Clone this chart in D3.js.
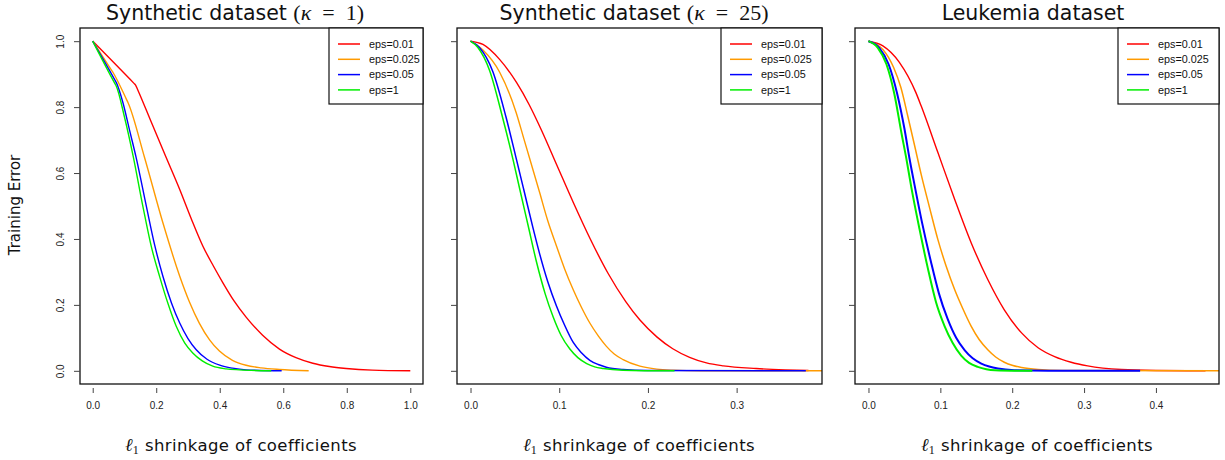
<!DOCTYPE html>
<html>
<head>
<meta charset="utf-8">
<script src="https://cdn.jsdelivr.net/npm/d3@7"></script>
<style>
  body { margin: 0; background: #fff; }
  svg { display: block; }
</style>
</head>
<body>
<div id="chart"></div>
<script>
// Series labels and colours (legend order)
const seriesNames = ["eps=0.01", "eps=0.025", "eps=0.05", "eps=1"];
const seriesColors = ["#ff0000", "#ff9a00", "#0000ff", "#00ee00"];

// Tick values
const yTicks = [0, 0.2, 0.4, 0.6, 0.8, 1.0];
const xTicks1 = [0, 0.2, 0.4, 0.6, 0.8, 1.0];
const xTicks2 = [0, 0.1, 0.2, 0.3];
const xTicks3 = [0, 0.1, 0.2, 0.3, 0.4];

// Synthetic dataset, kappa = 1   ([shrinkage, training error])
const k1_eps001 = [[0,1],[0.13,0.872],[0.135,0.867],[0.142,0.852],[0.185,0.753],[0.23,0.65],[0.274,0.55],[0.31,0.462],[0.347,0.378],[0.38,0.318],[0.41,0.267],[0.445,0.212],[0.483,0.163],[0.535,0.108],[0.588,0.066],[0.64,0.04],[0.693,0.023],[0.745,0.013],[0.798,0.007],[0.88,0.002],[1.0,0]];
const k1_eps0025 = [[0,1],[0.06,0.911],[0.064,0.905],[0.107,0.822],[0.111,0.814],[0.163,0.648],[0.221,0.449],[0.274,0.287],[0.305,0.208],[0.336,0.144],[0.368,0.094],[0.399,0.06],[0.44,0.032],[0.483,0.017],[0.53,0.009],[0.588,0.004],[0.68,0]];
const k1_eps005 = [[0,1],[0.07,0.882],[0.074,0.875],[0.095,0.814],[0.116,0.73],[0.137,0.646],[0.169,0.499],[0.195,0.382],[0.221,0.287],[0.248,0.206],[0.274,0.145],[0.3,0.098],[0.326,0.064],[0.36,0.035],[0.4,0.017],[0.44,0.008],[0.483,0.003],[0.595,0]];
const k1_eps1 = [[0,1],[0.07,0.871],[0.074,0.864],[0.1,0.77],[0.127,0.653],[0.158,0.499],[0.185,0.375],[0.211,0.285],[0.237,0.204],[0.263,0.135],[0.29,0.084],[0.315,0.054],[0.345,0.03],[0.378,0.014],[0.42,0.006],[0.462,0.003],[0.562,0]];

// Synthetic dataset, kappa = 25
const k25_eps001 = [[0,1],[0.014,0.99],[0.033,0.944],[0.052,0.874],[0.066,0.808],[0.08,0.73],[0.097,0.626],[0.116,0.51],[0.135,0.4],[0.155,0.296],[0.175,0.21],[0.191,0.154],[0.21,0.103],[0.228,0.067],[0.247,0.041],[0.266,0.024],[0.285,0.015],[0.322,0.007],[0.355,0.003],[0.381,0.001]];
const k25_eps0025 = [[0,1],[0.014,0.973],[0.033,0.905],[0.0515,0.783],[0.06,0.705],[0.078,0.54],[0.087,0.456],[0.097,0.378],[0.106,0.31],[0.1158,0.246],[0.125,0.193],[0.1345,0.145],[0.144,0.106],[0.153,0.075],[0.162,0.051],[0.172,0.034],[0.191,0.014],[0.21,0.005],[0.228,0.002],[0.26,0.0003],[0.42,0]];
const k25_eps005 = [[0,1],[0.01,0.981],[0.025,0.909],[0.04,0.77],[0.051,0.65],[0.06,0.55],[0.07,0.438],[0.078,0.354],[0.087,0.271],[0.097,0.196],[0.106,0.139],[0.1158,0.086],[0.125,0.055],[0.1345,0.032],[0.144,0.019],[0.153,0.011],[0.172,0.004],[0.2,0.001],[0.378,0]];
const k25_eps1 = [[0,1],[0.0083,0.981],[0.0214,0.912],[0.036,0.77],[0.048,0.64],[0.0556,0.55],[0.065,0.44],[0.0744,0.33],[0.084,0.235],[0.0932,0.163],[0.102,0.108],[0.112,0.066],[0.121,0.04],[0.131,0.022],[0.14,0.012],[0.1496,0.007],[0.172,0.002],[0.23,0]];

// Leukemia dataset
const leu_eps001 = [[0,1],[0.02,0.986],[0.043,0.936],[0.066,0.844],[0.0734,0.803],[0.0966,0.662],[0.12,0.52],[0.143,0.388],[0.166,0.277],[0.189,0.185],[0.213,0.115],[0.236,0.07],[0.259,0.043],[0.282,0.026],[0.305,0.015],[0.352,0.004],[0.4,0.001],[0.469,0]];
const leu_eps0025 = [[0,1],[0.02,0.975],[0.035,0.92],[0.045,0.86],[0.055,0.77],[0.064,0.685],[0.0734,0.595],[0.085,0.495],[0.0966,0.398],[0.108,0.318],[0.12,0.246],[0.131,0.19],[0.143,0.135],[0.154,0.095],[0.166,0.064],[0.177,0.042],[0.189,0.026],[0.201,0.016],[0.213,0.01],[0.236,0.004],[0.27,0.001],[0.5,0]];
const leu_eps005 = [[0,1],[0.015,0.98],[0.028,0.93],[0.04,0.84],[0.05,0.735],[0.057,0.645],[0.064,0.565],[0.075,0.445],[0.087,0.33],[0.098,0.235],[0.11,0.158],[0.122,0.1],[0.134,0.062],[0.145,0.038],[0.157,0.022],[0.168,0.013],[0.18,0.007],[0.203,0.002],[0.25,0.0003],[0.378,0]];
const leu_eps1 = [[0,1],[0.013,0.98],[0.025,0.93],[0.036,0.84],[0.046,0.72],[0.053,0.64],[0.0595,0.558],[0.071,0.43],[0.0827,0.31],[0.094,0.208],[0.106,0.135],[0.117,0.085],[0.129,0.046],[0.14,0.024],[0.152,0.012],[0.164,0.005],[0.176,0.002],[0.228,0]];

const width = 1225, height = 460;
const plotTop = 28, plotBottom = 384;

const panels = [
  { title: ["Synthetic dataset ", "1"], series: [k1_eps001, k1_eps0025, k1_eps005, k1_eps1],
    xmax: 1.0, ticks: xTicks1, left: 80, right: 423, yLabels: true, titleX: 235, xlabX: 241, legendW: 94, widths: [1.4, 1.4, 1.4, 1.4] },
  { title: ["Synthetic dataset ", "25"], series: [k25_eps001, k25_eps0025, k25_eps005, k25_eps1],
    xmax: 0.381, ticks: xTicks2, left: 457, right: 822, yLabels: false, titleX: 634, xlabX: 639, legendW: 101, widths: [1.4, 1.4, 1.5, 1.5] },
  { title: ["Leukemia dataset"], series: [leu_eps001, leu_eps0025, leu_eps005, leu_eps1],
    xmax: 0.469, ticks: xTicks3, left: 855, right: 1219, yLabels: false, titleX: 1033, xlabX: 1037, legendW: 101, widths: [1.4, 1.5, 2, 2] }
];

const svg = d3.select("#chart").append("svg")
    .attr("width", width)
    .attr("height", height);

const sans = "'DejaVu Sans', sans-serif";
const serif = "'Liberation Serif', 'DejaVu Serif', serif";
const axisFont = "'Liberation Sans', Arial, sans-serif";

// R-style 4% padding on both axes
const y = d3.scaleLinear().domain([-0.04, 1.04]).range([plotBottom, plotTop]);

panels.forEach((p, pi) => {
  const pad = p.xmax * 0.04;
  const x = d3.scaleLinear().domain([-pad, p.xmax + pad]).range([p.left, p.right]);
  const g = svg.append("g");

  // clip lines to the plot box
  const clipId = "clip" + pi;
  g.append("clipPath").attr("id", clipId)
    .append("rect")
    .attr("x", p.left).attr("y", plotTop)
    .attr("width", p.right - p.left).attr("height", plotBottom - plotTop);

  const line = d3.line()
      .x(d => x(d[0]))
      .y(d => y(d[1]))
      .curve(d3.curveMonotoneX);

  g.append("g").attr("clip-path", `url(#${clipId})`)
    .selectAll("path")
    .data(p.series)
    .enter().append("path")
    .attr("d", line)
    .style("fill", "none")
    .style("stroke", (d, i) => seriesColors[i])
    .style("stroke-width", (d, i) => p.widths[i]);

  // plot box
  g.append("rect")
    .attr("x", p.left).attr("y", plotTop)
    .attr("width", p.right - p.left).attr("height", plotBottom - plotTop)
    .style("fill", "none").style("stroke", "#111").style("stroke-width", 1.3);

  // x axis: ticks below the box
  const xAxis = g.append("g")
      .attr("transform", `translate(0,${plotBottom + 4})`)
      .call(d3.axisBottom(x).tickValues(p.ticks).tickFormat(d3.format(".1f")).tickSize(5).tickPadding(9));
  xAxis.select(".domain").remove();
  xAxis.selectAll("text").style("font-family", axisFont).style("font-size", "10px").style("fill", "#222");
  xAxis.selectAll("line").style("stroke", "#444");

  // y axis
  const yAxis = g.append("g")
      .attr("transform", `translate(${p.left},0)`)
      .call(d3.axisLeft(y).tickValues(yTicks).tickSize(6).tickFormat(p.yLabels ? d3.format(".1f") : ""));
  yAxis.select(".domain").remove();
  yAxis.selectAll("line").style("stroke", "#444");
  yAxis.selectAll("text")
      .attr("x", 0).attr("dy", null)
      .attr("transform", "translate(-16,0) rotate(-90)")
      .style("text-anchor", "middle")
      .style("font-family", axisFont).style("font-size", "10px").style("fill", "#222");

  // title
  const t = g.append("text")
      .attr("x", p.titleX).attr("y", 20)
      .attr("text-anchor", "middle")
      .style("font-family", sans).style("font-size", "20.5px").style("fill", "#111");
  t.append("tspan").text(p.title[0]);
  if (p.title.length > 1) {
    t.append("tspan").style("font-family", serif).style("font-size", "22px").text("(");
    t.append("tspan").style("font-family", serif).style("font-size", "22px").style("font-style", "italic").text("κ");
    t.append("tspan").style("font-family", serif).style("font-size", "22px").text("\u2002=\u2002" + p.title[1] + ")");
  }

  // x label
  const xl = g.append("text")
      .attr("x", p.xlabX).attr("y", 451)
      .attr("text-anchor", "middle")
      .style("font-family", sans).style("font-size", "16.5px").style("letter-spacing", "0.4px").style("fill", "#111");
  xl.append("tspan").style("font-family", serif).style("font-style", "italic").style("font-size", "18px").text("ℓ");
  xl.append("tspan").attr("dy", 3).style("font-family", serif).style("font-size", "12px").text("1");
  xl.append("tspan").attr("dy", -3).text(" shrinkage of coefficients");

  // legend in the top-right corner
  const lg = g.append("g").attr("transform", `translate(${p.right - p.legendW},${plotTop})`);
  lg.append("rect")
    .attr("width", p.legendW).attr("height", 76)
    .style("fill", "#fff").style("stroke", "#111").style("stroke-width", 1.2);
  seriesNames.forEach((name, i) => {
    const ly = 16 + i * 15.3;
    lg.append("line")
      .attr("x1", 9).attr("x2", 31).attr("y1", ly).attr("y2", ly)
      .style("stroke", seriesColors[i]).style("stroke-width", 1.5);
    lg.append("text")
      .attr("x", 40).attr("y", ly)
      .attr("dy", "0.35em")
      .style("font-family", axisFont).style("font-size", "10.8px").style("fill", "#111")
      .text(name);
  });
});

// shared y label
svg.append("text")
    .attr("transform", "translate(20,205) rotate(-90)")
    .attr("text-anchor", "middle")
    .style("font-family", sans).style("font-size", "15px").style("fill", "#111")
    .text("Training Error");
</script>
</body>
</html>
